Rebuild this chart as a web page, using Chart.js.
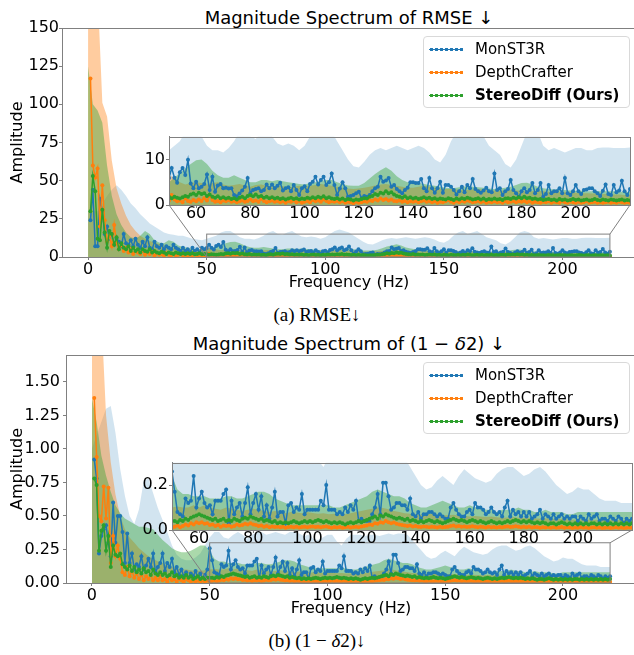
<!DOCTYPE html>
<html>
<head>
<meta charset="utf-8">
<script src="https://cdn.jsdelivr.net/npm/chart.js@4.4.1/dist/chart.umd.min.js"></script>
<style>
  html, body { margin: 0; padding: 0; background: #fff; overflow: hidden; }
  body { width: 634px; height: 655px; position: relative; font-family: "DejaVu Sans", sans-serif; color: #000; }
  canvas { position: absolute; }
  .title { position: absolute; left: 62px; width: 574px; text-align: center; font-size: 18px; line-height: 20px; white-space: nowrap; }
  .caption { position: absolute; left: 0; width: 634px; text-align: center; font-family: "Liberation Serif", "Times New Roman", serif; font-size: 19px; line-height: 22px; }
  .legend { position: absolute; left: 423px; width: 205px; height: 70px; border: 1px solid #d9d9d9; border-radius: 4px; background: rgba(255,255,255,0.8); z-index: 5; }
  .item { position: absolute; left: 51px; height: 20px; line-height: 20px; font-size: 15px; white-space: nowrap; }
  .sw { position: absolute; left: 5px; width: 34px; height: 5px; }
</style>
</head>
<body>
<div class="title" style="top:8px">Magnitude Spectrum of RMSE ↓</div>
<div class="title" style="top:334px">Magnitude Spectrum of (1 − <i>δ</i>2) ↓</div>
<div class="caption" style="top:304px">(a) RMSE↓</div>
<div class="caption" style="top:630px">(b) (1 − <i>δ</i>2)↓</div>
<div class="legend" id="legTop" style="top:36px"></div>
<div class="legend" id="legBottom" style="top:362px"></div>

<canvas id="mainTop" width="640" height="292" style="left:0;top:0;z-index:1"></canvas>
<canvas id="insetTop" width="506" height="100" style="left:130px;top:126px;z-index:2"></canvas>
<canvas id="mainBottom" width="640" height="293" style="left:0;top:325px;z-index:1"></canvas>
<canvas id="insetBottom" width="506" height="100" style="left:130px;top:452px;z-index:2"></canvas>

<script>
// series names + colours (matplotlib tab10)
const seriesNames = ['MonST3R', 'DepthCrafter', 'StereoDiff (Ours)'];
const seriesColors = ['#1f77b4', '#ff7f0e', '#2ca02c'];
const bandAlpha = [0.2, 0.4, 0.4];

// frequency bins (Hz): lines every 1 Hz from 1, envelopes every 2 Hz from 0
const lineFreqs = Array.from({length: 220}, (_, i) => i + 1);
const bandFreqs = Array.from({length: 111}, (_, i) => i * 2);

// tick labels
const mainXTicks = [0, 50, 100, 150, 200];
const insetXTicks = [60, 80, 100, 120, 140, 160, 180, 200];
const rmseYTicks = [0, 25, 50, 75, 100, 125, 150];
const rmseInsetYTicks = [0, 10];
const deltaYTicks = [0, 0.25, 0.5, 0.75, 1.0, 1.25, 1.5];
const deltaInsetYTicks = [0, 0.2];

// ---------- RMSE spectrum ----------
const rmseMonst3r = [
  24, 44, 7, 7, 38, 30, 15, 20, 12, 15,
  8, 12, 10, 7, 15, 9, 8, 11, 7, 12,
  8, 6, 10, 7, 13, 6, 5, 10, 7, 6,
  8, 5, 7, 6, 5, 8, 6, 5, 4, 6,
  4, 5, 3, 6, 4, 5, 3, 6, 5, 5.9,
  8.1, 6.0, 4.9, 7.2, 8.1, 6.6, 9.9, 4.7, 3.7, 5.1,
  3.7, 4.0, 4.6, 6.7, 3.3, 6.2, 2.9, 4.3, 4.6, 3.7,
  3.8, 3.6, 3.7, 2.2, 1.9, 2.5, 3.2, 4.0, 5.9, 2.6,
  3.3, 3.5, 3.7, 3.0, 3.3, 4.5, 3.7, 4.5, 3.7, 4.2,
  4.9, 3.2, 3.7, 3.9, 3.0, 4.4, 3.3, 2.2, 3.7, 4.1,
  3.0, 4.6, 5.1, 6.2, 4.5, 5.5, 6.2, 4.4, 5.0, 6.9,
  4.4, 2.2, 3.6, 5.0, 3.7, 1.8, 2.0, 2.2, 2.6, 2.9,
  1.5, 2.0, 1.8, 2.2, 3.0, 3.7, 4.0, 6.2, 5.1, 5.4,
  5.9, 4.0, 4.4, 3.5, 3.0, 2.6, 3.3, 3.8, 5.0, 5.0,
  4.8, 4.8, 5.7, 3.7, 3.0, 5.9, 3.7, 2.7, 3.7, 5.1,
  2.7, 4.4, 4.4, 4.0, 3.3, 2.3, 3.0, 4.0, 2.8, 4.4,
  3.7, 5.7, 3.5, 3.0, 2.7, 3.2, 3.8, 3.0, 2.8, 6.9,
  3.3, 3.7, 2.2, 3.0, 3.5, 5.5, 3.3, 2.6, 1.8, 3.0,
  3.7, 2.8, 3.3, 4.8, 2.6, 3.3, 4.8, 1.8, 2.4, 4.4,
  2.6, 3.0, 3.0, 3.7, 2.6, 5.9, 2.6, 2.2, 3.0, 4.4,
  3.0, 2.4, 3.3, 3.4, 3.7, 3.7, 3.0, 2.6, 2.0, 3.1,
  4.5, 2.4, 2.2, 4.4, 2.8, 3.2, 5.3, 3.0, 2.2, 3.5
];
const rmseDepth = [
  117, 60, 52, 58, 20, 47, 24, 10, 14, 7,
  21, 9, 5, 8, 4, 6, 3, 5, 2, 4,
  3, 2, 4, 1.5, 3, 2, 3.5, 1, 2.5, 1.5,
  2, 1, 2.5, 1.5, 1, 2, 1, 1.5, 2, 1,
  1.5, 0.8, 1.5, 1, 2, 0.8, 1.5, 1, 1.2, 1,
  2.2, 1.2, 0.8, 1.0, 0.6, 1.4, 0.9, 0.7, 1.1, 0.8,
  1.2, 0.9, 1.5, 1.0, 2.0, 1.1, 0.7, 0.9, 0.6, 1.0,
  0.8, 1.1, 0.7, 0.9, 0.6, 0.8, 1.0, 0.7, 0.9, 1.2,
  0.8, 1.0, 0.7, 1.3, 0.9, 0.6, 0.8, 1.0, 0.7, 0.9,
  0.6, 0.8, 0.5, 0.9, 0.7, 1.0, 0.6, 0.8, 0.5, 0.7,
  0.9, 0.6, 1.1, 0.8, 1.0, 0.7, 1.2, 0.9, 0.6, 0.8,
  0.7, 0.9, 0.6, 0.8, 0.5, 0.7, 0.6, 0.4, 0.7, 0.5,
  0.6, 0.8, 0.7, 1.0, 0.9, 1.2, 1.0, 1.4, 1.1, 1.3,
  1.0, 1.2, 0.9, 0.8, 1.0, 0.7, 0.9, 0.6, 0.8, 0.7,
  0.9, 0.6, 0.8, 1.0, 0.7, 0.9, 0.6, 0.8, 0.5, 0.7,
  0.6, 0.8, 1.1, 0.7, 0.5, 0.8, 0.6, 0.9, 0.7, 1.0,
  0.8, 0.6, 0.7, 0.9, 0.6, 0.8, 0.5, 0.7, 0.6, 0.8,
  0.6, 0.7, 0.5, 0.8, 0.6, 0.7, 0.9, 0.6, 0.8, 0.7,
  0.9, 0.6, 0.8, 0.5, 0.7, 0.6, 0.5, 0.7, 0.6, 0.8,
  0.5, 0.7, 0.6, 0.5, 0.8, 0.6, 0.5, 0.7, 0.6, 0.5,
  0.7, 0.5, 0.6, 0.8, 0.5, 0.6, 0.7, 0.5, 0.6, 0.5,
  0.6, 0.7, 0.5, 0.6, 0.5, 0.7, 0.6, 0.5, 0.6, 0.5
];
const rmseStereo = [
  30, 53, 43, 12, 11, 31, 16, 6, 17, 15,
  8, 13, 5, 9, 6, 5, 7, 4, 6, 4,
  5, 3, 5, 4, 3.5, 5, 3, 4, 3, 2.5,
  3.5, 3, 2, 3, 2.5, 2, 3, 2.5, 2, 2.5,
  2, 2.5, 2, 2.5, 1.8, 2, 2.5, 1.8, 2, 1.8,
  1.5, 1.8, 1.6, 1.4, 1.7, 2.0, 1.8, 2.3, 2.5, 2.2,
  2.7, 2.4, 2.6, 2.0, 2.3, 1.8, 1.6, 1.9, 1.5, 1.7,
  1.4, 1.6, 1.3, 1.5, 1.2, 1.6, 1.8, 1.5, 2.0, 2.2,
  1.9, 2.3, 1.8, 2.0, 1.6, 1.8, 1.5, 1.7, 1.4, 1.6,
  1.3, 1.5, 1.2, 1.4, 1.6, 1.3, 1.5, 1.2, 1.4, 1.3,
  1.6, 1.4, 1.7, 1.5, 1.8, 1.6, 1.9, 1.5, 1.7, 1.4,
  1.3, 1.5, 1.2, 1.4, 1.1, 1.3, 1.2, 1.0, 1.2, 1.1,
  1.3, 1.5, 1.4, 1.8, 2.0, 2.4, 2.2, 2.7, 2.5, 3.0,
  2.6, 2.8, 2.3, 2.0, 1.8, 1.6, 1.9, 1.5, 1.7, 1.4,
  1.6, 1.3, 1.5, 1.7, 1.4, 1.6, 1.3, 1.5, 1.2, 1.4,
  1.3, 1.2, 1.5, 1.3, 1.1, 1.4, 1.2, 1.5, 1.3, 1.6,
  1.4, 1.2, 1.3, 1.5, 1.2, 1.4, 1.1, 1.3, 1.2, 1.4,
  1.2, 1.3, 1.1, 1.4, 1.5, 1.3, 1.6, 1.4, 1.7, 1.5,
  1.8, 1.5, 1.6, 1.3, 1.4, 1.2, 1.3, 1.1, 1.2, 1.3,
  1.1, 1.2, 1.0, 1.3, 1.1, 1.2, 1.0, 1.1, 1.3, 1.1,
  1.2, 1.0, 1.1, 1.2, 1.0, 1.1, 1.3, 1.1, 1.0, 1.2,
  1.1, 1.0, 1.2, 1.1, 1.0, 1.1, 1.2, 1.0, 1.1, 1.0
];
// upper envelopes (shaded from 0)
const rmseMonst3rBand = [
  30, 30, 30, 35, 40, 44, 47, 44, 40, 35,
  32, 28, 25, 22, 20, 18, 16, 15, 14.5, 14,
  14, 13, 12, 11.5, 11, 12, 13, 14, 16, 17,
  17, 15, 13, 12, 12, 11.5, 12.5, 14, 16, 17,
  15, 14.5, 16, 17, 15, 13.5, 13, 13.5, 13, 12,
  13, 15, 17, 18, 17, 16, 14, 12, 10, 8.5,
  8.2, 9.5, 11, 12, 12.5, 12, 12.5, 13, 12.5, 12,
  12.5, 13, 12.5, 11.5, 10, 9.3, 11, 14, 16, 17,
  15, 16, 17, 15, 13, 12, 11, 9, 8.2, 10,
  13, 16, 17, 16, 13, 12, 12.5, 12, 11.5, 12,
  12.5, 12.5, 12, 12, 12.5, 12.6, 12.6, 12.5, 12.5, 12.5,
  12.6
];
const rmseDepthBand = [
  175, 175, 175, 101, 92, 63, 45, 35, 27, 21,
  17, 14, 12, 10.5, 9.5, 8.5, 7.5, 6.8, 6, 5.5,
  5.2, 5, 4.8, 4.8, 5.5, 6.5, 6, 5, 4.5, 4.8,
  5, 4.8, 4.5, 4.8, 5, 4.5, 4.2, 4.4, 4.6, 4.3,
  4, 4.4, 4.5, 4.2, 4, 4.3, 4.1, 3.9, 4, 4.2,
  4, 4.2, 4.4, 4.6, 4.4, 4.2, 4, 3.8, 3.6, 3.5,
  3.6, 3.8, 4, 4.3, 4.5, 4.6, 4.4, 4.2, 4, 3.8,
  3.8, 4, 4.2, 4, 3.8, 3.6, 3.5, 3.5, 3.4, 3.3,
  3.3, 3.4, 3.5, 3.4, 3.3, 3.2, 3.1, 3.2, 3.3, 3.2,
  3.1, 3, 3, 3.1, 3, 2.9, 2.8, 2.8, 2.9, 2.8,
  2.7, 2.6, 2.6, 2.5, 2.5, 2.4, 2.4, 2.3, 2.3, 2.2,
  2.2
];
const rmseStereoBand = [
  125, 100, 96, 88, 60, 40, 28, 21, 16, 13,
  12, 14, 17, 15, 11, 9.5, 9, 11, 10, 7.5,
  6.5, 6, 5.5, 5, 5, 5, 6, 7, 8, 9,
  9.8, 10, 9, 7.5, 6.5, 6, 6, 6.5, 6, 5.5,
  5, 5, 5.5, 5.5, 5.2, 5.5, 5.2, 5, 4.8, 4.6,
  4.5, 4.8, 5, 5.3, 5.5, 5.5, 5, 4.6, 4.3, 4.2,
  4.2, 4.8, 5.8, 6.8, 7.6, 8.3, 7.5, 6.3, 5.5, 5,
  4.8, 4.8, 4.6, 4.4, 4.2, 4, 3.8, 3.7, 3.8, 4,
  4.1, 4, 3.9, 3.8, 3.6, 3.5, 3.6, 3.8, 4, 4.4,
  4.8, 4.9, 4.5, 4, 3.7, 3.5, 3.4, 3.4, 3.3, 3.2,
  3.1, 3.1, 3, 3, 3, 3, 3, 3, 2.9, 2.9,
  2.8
];

// ---------- (1 - delta2) spectrum ----------
const deltaMonst3r = [
  0.92, 0.78, 0.22, 0.35, 0.40, 0.43, 0.30, 0.20, 0.60, 0.30,
  0.50, 0.50, 0.38, 0.15, 0.37, 0.15, 0.22, 0.10, 0.14, 0.12,
  0.20, 0.10, 0.13, 0.18, 0.12, 0.22, 0.08, 0.12, 0.15, 0.22,
  0.09, 0.15, 0.12, 0.18, 0.08, 0.12, 0.06, 0.10, 0.05, 0.08,
  0.04, 0.07, 0.05, 0.09, 0.04, 0.07, 0.03, 0.06, 0.10, 0.26,
  0.17, 0.08, 0.07, 0.06, 0.14, 0.12, 0.13, 0.24, 0.10, 0.14,
  0.17, 0.12, 0.10, 0.11, 0.07, 0.13, 0.13, 0.13, 0.16, 0.18,
  0.03, 0.13, 0.07, 0.10, 0.12, 0.06, 0.12, 0.19, 0.07, 0.12,
  0.16, 0.09, 0.15, 0.06, 0.11, 0.05, 0.10, 0.17, 0.06, 0.08,
  0.08, 0.03, 0.11, 0.12, 0.08, 0.10, 0.09, 0.16, 0.07, 0.09,
  0.09, 0.09, 0.09, 0.09, 0.13, 0.11, 0.20, 0.09, 0.09, 0.09,
  0.07, 0.08, 0.07, 0.10, 0.08, 0.11, 0.09, 0.13, 0.04, 0.05,
  0.04, 0.04, 0.04, 0.07, 0.10, 0.16, 0.07, 0.21, 0.21, 0.15,
  0.09, 0.10, 0.12, 0.12, 0.11, 0.11, 0.09, 0.14, 0.07, 0.06,
  0.08, 0.05, 0.07, 0.07, 0.08, 0.08, 0.07, 0.06, 0.07, 0.06,
  0.05, 0.05, 0.10, 0.12, 0.09, 0.07, 0.06, 0.06, 0.08, 0.09,
  0.07, 0.12, 0.10, 0.10, 0.09, 0.07, 0.08, 0.10, 0.08, 0.07,
  0.08, 0.06, 0.10, 0.13, 0.06, 0.09, 0.07, 0.08, 0.06, 0.08,
  0.06, 0.08, 0.05, 0.06, 0.07, 0.09, 0.05, 0.07, 0.06, 0.05,
  0.07, 0.05, 0.06, 0.07, 0.05, 0.06, 0.05, 0.06, 0.06, 0.04,
  0.06, 0.05, 0.04, 0.07, 0.05, 0.06, 0.07, 0.04, 0.05, 0.05,
  0.04, 0.06, 0.05, 0.04, 0.06, 0.05, 0.03, 0.05, 0.04, 0.05
];
const deltaDepth = [
  1.38, 0.94, 0.50, 0.46, 0.72, 0.48, 0.71, 0.15, 0.35, 0.20,
  0.28, 0.18, 0.08, 0.06, 0.12, 0.05, 0.09, 0.04, 0.07, 0.03,
  0.06, 0.02, 0.05, 0.03, 0.06, 0.02, 0.04, 0.02, 0.05, 0.02,
  0.03, 0.01, 0.04, 0.02, 0.03, 0.01, 0.03, 0.02, 0.01, 0.03,
  0.02, 0.01, 0.02, 0.01, 0.02, 0.01, 0.02, 0.01, 0.02, 0.01,
  0.015, 0.02, 0.012, 0.018, 0.025, 0.02, 0.03, 0.025, 0.035, 0.03,
  0.035, 0.028, 0.03, 0.022, 0.025, 0.018, 0.022, 0.015, 0.02, 0.018,
  0.02, 0.015, 0.018, 0.025, 0.02, 0.022, 0.028, 0.025, 0.03, 0.025,
  0.022, 0.018, 0.02, 0.015, 0.018, 0.012, 0.016, 0.013, 0.015, 0.012,
  0.014, 0.01, 0.013, 0.015, 0.012, 0.014, 0.011, 0.013, 0.015, 0.012,
  0.014, 0.016, 0.013, 0.015, 0.012, 0.014, 0.016, 0.012, 0.01, 0.013,
  0.011, 0.013, 0.01, 0.012, 0.014, 0.011, 0.013, 0.015, 0.012, 0.016,
  0.018, 0.02, 0.025, 0.022, 0.03, 0.028, 0.035, 0.032, 0.04, 0.035,
  0.03, 0.033, 0.028, 0.025, 0.022, 0.02, 0.018, 0.02, 0.016, 0.018,
  0.015, 0.013, 0.016, 0.014, 0.012, 0.015, 0.013, 0.011, 0.014, 0.012,
  0.013, 0.015, 0.018, 0.02, 0.016, 0.018, 0.014, 0.016, 0.013, 0.015,
  0.017, 0.014, 0.012, 0.015, 0.013, 0.011, 0.014, 0.012, 0.013, 0.011,
  0.013, 0.012, 0.014, 0.016, 0.013, 0.015, 0.017, 0.014, 0.012, 0.014,
  0.012, 0.014, 0.011, 0.013, 0.012, 0.01, 0.012, 0.011, 0.013, 0.01,
  0.012, 0.01, 0.011, 0.013, 0.01, 0.012, 0.011, 0.009, 0.011, 0.01,
  0.012, 0.01, 0.011, 0.009, 0.011, 0.012, 0.01, 0.011, 0.009, 0.01,
  0.011, 0.009, 0.01, 0.012, 0.01, 0.011, 0.009, 0.01, 0.011, 0.01
];
const deltaStereo = [
  0.78, 0.73, 0.24, 0.39, 0.43, 0.24, 0.35, 0.12, 0.28, 0.21,
  0.20, 0.22, 0.14, 0.12, 0.10, 0.13, 0.09, 0.12, 0.08, 0.10,
  0.07, 0.11, 0.08, 0.09, 0.06, 0.10, 0.07, 0.06, 0.08, 0.06,
  0.07, 0.05, 0.06, 0.08, 0.05, 0.06, 0.04, 0.05, 0.04, 0.06,
  0.04, 0.05, 0.03, 0.04, 0.05, 0.03, 0.04, 0.03, 0.04, 0.04,
  0.04, 0.035, 0.045, 0.04, 0.05, 0.045, 0.055, 0.06, 0.065, 0.07,
  0.065, 0.06, 0.055, 0.05, 0.045, 0.05, 0.04, 0.045, 0.05, 0.04,
  0.045, 0.04, 0.05, 0.045, 0.04, 0.05, 0.055, 0.05, 0.06, 0.055,
  0.05, 0.045, 0.05, 0.04, 0.045, 0.04, 0.035, 0.04, 0.03, 0.035,
  0.03, 0.035, 0.03, 0.035, 0.04, 0.035, 0.03, 0.035, 0.04, 0.035,
  0.04, 0.035, 0.04, 0.045, 0.04, 0.035, 0.04, 0.035, 0.03, 0.035,
  0.03, 0.035, 0.03, 0.025, 0.03, 0.035, 0.03, 0.035, 0.04, 0.035,
  0.04, 0.045, 0.05, 0.055, 0.06, 0.05, 0.065, 0.06, 0.07, 0.065,
  0.06, 0.055, 0.05, 0.055, 0.05, 0.045, 0.05, 0.04, 0.045, 0.04,
  0.035, 0.04, 0.035, 0.04, 0.045, 0.04, 0.035, 0.04, 0.035, 0.03,
  0.035, 0.04, 0.045, 0.05, 0.045, 0.04, 0.045, 0.04, 0.035, 0.04,
  0.045, 0.04, 0.035, 0.04, 0.035, 0.03, 0.035, 0.04, 0.035, 0.03,
  0.035, 0.03, 0.035, 0.04, 0.035, 0.04, 0.045, 0.04, 0.035, 0.04,
  0.035, 0.04, 0.035, 0.03, 0.035, 0.03, 0.035, 0.03, 0.025, 0.03,
  0.03, 0.025, 0.03, 0.035, 0.03, 0.025, 0.03, 0.025, 0.03, 0.025,
  0.03, 0.025, 0.03, 0.025, 0.03, 0.03, 0.025, 0.03, 0.025, 0.03,
  0.025, 0.03, 0.025, 0.03, 0.025, 0.03, 0.025, 0.03, 0.025, 0.03
];
const deltaMonst3rBand = [
  1.0, 1.1, 1.2, 1.3, 1.32, 1.12, 0.85, 0.65, 0.5, 0.44,
  0.55, 0.76, 0.78, 0.67, 0.56, 0.47, 0.38, 0.28, 0.21, 0.18,
  0.17, 0.17, 0.19, 0.22, 0.28, 0.34, 0.38, 0.38, 0.34, 0.33,
  0.36, 0.38, 0.36, 0.33, 0.36, 0.38, 0.38, 0.36, 0.37, 0.38,
  0.37, 0.36, 0.38, 0.38, 0.37, 0.35, 0.36, 0.33, 0.32, 0.34,
  0.36, 0.36, 0.31, 0.28, 0.33, 0.36, 0.36, 0.36, 0.35, 0.36,
  0.36, 0.35, 0.36, 0.37, 0.36, 0.37, 0.37, 0.36, 0.32, 0.28,
  0.24, 0.2, 0.18, 0.19, 0.22, 0.24, 0.22, 0.2, 0.24, 0.27,
  0.25, 0.23, 0.22, 0.21, 0.22, 0.25, 0.27, 0.28, 0.28, 0.26,
  0.24, 0.25, 0.27, 0.28, 0.26, 0.23, 0.2, 0.18, 0.16, 0.17,
  0.19, 0.18, 0.18, 0.16, 0.14, 0.13, 0.13, 0.13, 0.12, 0.12,
  0.12
];
const deltaDepthBand = [
  2.0, 2.0, 2.0, 1.25, 0.9, 0.66, 0.5, 0.4, 0.34, 0.3,
  0.26, 0.23, 0.2, 0.18, 0.16, 0.15, 0.13, 0.12, 0.11, 0.1,
  0.1, 0.095, 0.09, 0.092, 0.095, 0.1, 0.105, 0.1, 0.1, 0.11,
  0.1, 0.11, 0.1, 0.095, 0.09, 0.1, 0.095, 0.09, 0.085, 0.09,
  0.095, 0.09, 0.085, 0.08, 0.085, 0.08, 0.075, 0.08, 0.078, 0.075,
  0.08, 0.076, 0.072, 0.075, 0.07, 0.072, 0.068, 0.07, 0.075, 0.08,
  0.085, 0.09, 0.095, 0.1, 0.098, 0.092, 0.085, 0.08, 0.075, 0.072,
  0.07, 0.068, 0.07, 0.072, 0.068, 0.065, 0.066, 0.068, 0.065, 0.062,
  0.06, 0.062, 0.06, 0.058, 0.06, 0.057, 0.055, 0.056, 0.058, 0.055,
  0.053, 0.055, 0.052, 0.05, 0.052, 0.05, 0.048, 0.05, 0.048, 0.046,
  0.047, 0.048, 0.046, 0.045, 0.046, 0.044, 0.045, 0.043, 0.044, 0.043,
  0.043
];
const deltaStereoBand = [
  1.38, 1.2, 0.95, 0.8, 0.68, 0.58, 0.52, 0.48, 0.46, 0.44,
  0.42, 0.42, 0.41, 0.4, 0.36, 0.32, 0.29, 0.26, 0.24, 0.23,
  0.23, 0.24, 0.26, 0.28, 0.28, 0.24, 0.18, 0.16, 0.16, 0.15,
  0.15, 0.15, 0.14, 0.14, 0.14, 0.15, 0.15, 0.14, 0.14, 0.15,
  0.16, 0.17, 0.17, 0.16, 0.14, 0.13, 0.12, 0.11, 0.11, 0.11,
  0.11, 0.11, 0.11, 0.11, 0.11, 0.1, 0.1, 0.11, 0.12, 0.13,
  0.14, 0.15, 0.17, 0.18, 0.17, 0.16, 0.15, 0.15, 0.14, 0.12,
  0.11, 0.1, 0.1, 0.11, 0.12, 0.13, 0.12, 0.11, 0.1, 0.1,
  0.11, 0.1, 0.1, 0.09, 0.09, 0.08, 0.09, 0.09, 0.09, 0.1,
  0.09, 0.09, 0.08, 0.08, 0.09, 0.08, 0.08, 0.08, 0.07, 0.07,
  0.08, 0.08, 0.08, 0.08, 0.08, 0.08, 0.08, 0.08, 0.08, 0.08,
  0.08
];

const AXIS = '#808080';
Chart.defaults.font.family = 'DejaVu Sans';
Chart.defaults.font.size = 16;
Chart.defaults.color = '#000';

function rgba(hex, a) {
  const n = parseInt(hex.slice(1), 16);
  return `rgba(${n >> 16}, ${(n >> 8) & 255}, ${n & 255}, ${a})`;
}

function buildDatasets(lines, bands) {
  const ds = [];
  lines.forEach((vals, k) => ds.push({
    data: lineFreqs.map((f, i) => ({x: f, y: vals[i]})),
    borderColor: seriesColors[k],
    backgroundColor: seriesColors[k],
    borderWidth: 1.5,
    pointRadius: 2,
    pointBorderWidth: 0,
    fill: false,
    order: 3 - k
  }));
  bands.forEach((vals, k) => ds.push({
    data: bandFreqs.map((f, i) => ({x: f, y: vals[i]})),
    borderWidth: 0,
    pointRadius: 0,
    fill: 'origin',
    backgroundColor: rgba(seriesColors[k], bandAlpha[k]),
    order: 6 - k
  }));
  return ds;
}

// white axes background + full grey frame
const framePlugin = {
  id: 'frame',
  beforeDraw(chart) {
    const a = chart.chartArea, ctx = chart.ctx;
    ctx.save();
    ctx.fillStyle = '#fff';
    ctx.fillRect(a.left, a.top, a.right - a.left, a.bottom - a.top);
    ctx.restore();
  },
  afterDatasetsDraw(chart) {
    const a = chart.chartArea, ctx = chart.ctx;
    ctx.save();
    ctx.strokeStyle = AXIS;
    ctx.lineWidth = 1;
    ctx.strokeRect(Math.round(a.left) + 0.5, Math.round(a.top) + 0.5,
      Math.round(a.right - a.left), Math.round(a.bottom - a.top));
    ctx.restore();
  }
};

// zoom rectangle on the main axes plus the two connector lines to the inset
function zoomPlugin(getInset, offset) {
  return {
    id: 'zoomBox',
    afterDatasetsDraw(chart) {
      const inset = getInset();
      if (!inset) return;
      const {ctx} = chart;
      const x = chart.scales.x, y = chart.scales.y;
      const xr = [inset.options.scales.x.min, inset.options.scales.x.max];
      const yr = [inset.options.scales.y.min, inset.options.scales.y.max];
      const x0 = x.getPixelForValue(xr[0]), x1 = x.getPixelForValue(xr[1]);
      const y0 = y.getPixelForValue(yr[0]), y1 = y.getPixelForValue(yr[1]);
      const a = inset.chartArea;
      ctx.save();
      ctx.strokeStyle = AXIS;
      ctx.lineWidth = 1;
      ctx.strokeRect(x0, y1, x1 - x0, y0 - y1);
      ctx.beginPath();
      ctx.moveTo(offset.left + a.left, offset.top + a.bottom);
      ctx.lineTo(x0, y0);
      ctx.moveTo(offset.left + a.right, offset.top + a.bottom);
      ctx.lineTo(x1, y1);
      ctx.stroke();
      ctx.restore();
    }
  };
}

function makeChart(id, o) {
  return new Chart(document.getElementById(id), {
    type: 'line',
    data: {datasets: buildDatasets(o.lines, o.bands)},
    options: {
      responsive: false,
      animation: false,
      events: [],
      layout: {padding: o.padding},
      plugins: {legend: {display: false}, tooltip: {enabled: false}},
      scales: {
        x: {
          type: 'linear',
          min: o.xRange[0], max: o.xRange[1],
          afterBuildTicks: s => { s.ticks = o.xTicks.map(v => ({value: v})); },
          afterFit: s => { s.height = o.xHeight; },
          ticks: {autoSkip: false, maxRotation: 0, padding: o.xPad,
                  font: {size: 16, lineHeight: o.lineHeight}, callback: v => String(v)},
          grid: {drawOnChartArea: false, tickLength: 3, color: AXIS},
          border: {color: AXIS},
          title: {display: !!o.xTitle, text: o.xTitle || '', font: {size: 16}, padding: 0}
        },
        y: {
          min: o.yRange[0], max: o.yRange[1],
          afterBuildTicks: s => { s.ticks = o.yTicks.map(v => ({value: v})); },
          afterFit: s => { s.width = o.yWidth; },
          ticks: {autoSkip: false, padding: o.yPad, callback: v => v.toFixed(o.yDec)},
          grid: {drawOnChartArea: false, tickLength: 3, color: AXIS},
          border: {color: AXIS},
          title: {display: !!o.yTitle, text: o.yTitle || '', font: {size: 16}, padding: {top: 8, bottom: 0}}
        }
      }
    },
    plugins: [framePlugin].concat(o.extra || [])
  });
}

// ---- top figure (RMSE) ----
const insetTop = makeChart('insetTop', {
  lines: [rmseMonst3r, rmseDepth, rmseStereo],
  bands: [rmseMonst3rBand, rmseDepthBand, rmseStereoBand],
  padding: {top: 10, right: 6, left: 0, bottom: 0},
  xRange: [50, 220], yRange: [0, 15],
  xTicks: insetXTicks, yTicks: rmseInsetYTicks, yDec: 0,
  xHeight: 21, yWidth: 39, xPad: -2, yPad: 1, lineHeight: 1
});
makeChart('mainTop', {
  lines: [rmseMonst3r, rmseDepth, rmseStereo],
  bands: [rmseMonst3rBand, rmseDepthBand, rmseStereoBand],
  padding: {top: 28, right: 4, left: 0, bottom: 0},
  xRange: [-11, 231], yRange: [0, 150],
  xTicks: mainXTicks, yTicks: rmseYTicks, yDec: 0,
  xHeight: 35, yWidth: 62, xPad: 0, yPad: 0, lineHeight: 1.2,
  xTitle: 'Frequency (Hz)', yTitle: 'Amplitude',
  extra: [zoomPlugin(() => insetTop, {left: 130, top: 126})]
});

// ---- bottom figure (1 - delta2) ----
const insetBottom = makeChart('insetBottom', {
  lines: [deltaMonst3r, deltaDepth, deltaStereo],
  bands: [deltaMonst3rBand, deltaDepthBand, deltaStereoBand],
  padding: {top: 10, right: 4, left: 0, bottom: 0},
  xRange: [50, 220], yRange: [0, 0.3],
  xTicks: insetXTicks, yTicks: deltaInsetYTicks, yDec: 1,
  xHeight: 22, yWidth: 42, xPad: -2, yPad: 1, lineHeight: 1
});
makeChart('mainBottom', {
  lines: [deltaMonst3r, deltaDepth, deltaStereo],
  bands: [deltaMonst3rBand, deltaDepthBand, deltaStereoBand],
  padding: {top: 30, right: 4, left: 0, bottom: 0},
  xRange: [-11, 231], yRange: [0, 1.7],
  xTicks: mainXTicks, yTicks: deltaYTicks, yDec: 2,
  xHeight: 35, yWidth: 66, xPad: 0, yPad: 3, lineHeight: 1.2,
  xTitle: 'Frequency (Hz)', yTitle: 'Amplitude',
  extra: [zoomPlugin(() => insetBottom, {left: 130, top: 452 - 325})]
});

// ---- legends ----
function buildLegend(id) {
  const box = document.getElementById(id);
  seriesNames.forEach((name, k) => {
    const c = seriesColors[k];
    const item = document.createElement('div');
    item.className = 'item';
    item.style.top = (2 + k * 23) + 'px';
    if (k === 2) item.style.fontWeight = 'bold';
    item.textContent = name;
    const sw = document.createElement('div');
    sw.className = 'sw';
    sw.style.top = (10 + k * 23) + 'px';
    sw.style.background = `radial-gradient(circle, ${c} 1.4px, transparent 1.9px) 0 0 / 5px 5px repeat-x, ` +
                          `linear-gradient(${c}, ${c}) 0 2px / 100% 1.2px no-repeat`;
    box.appendChild(sw);
    box.appendChild(item);
  });
}
buildLegend('legTop');
buildLegend('legBottom');
</script>
</body>
</html>
